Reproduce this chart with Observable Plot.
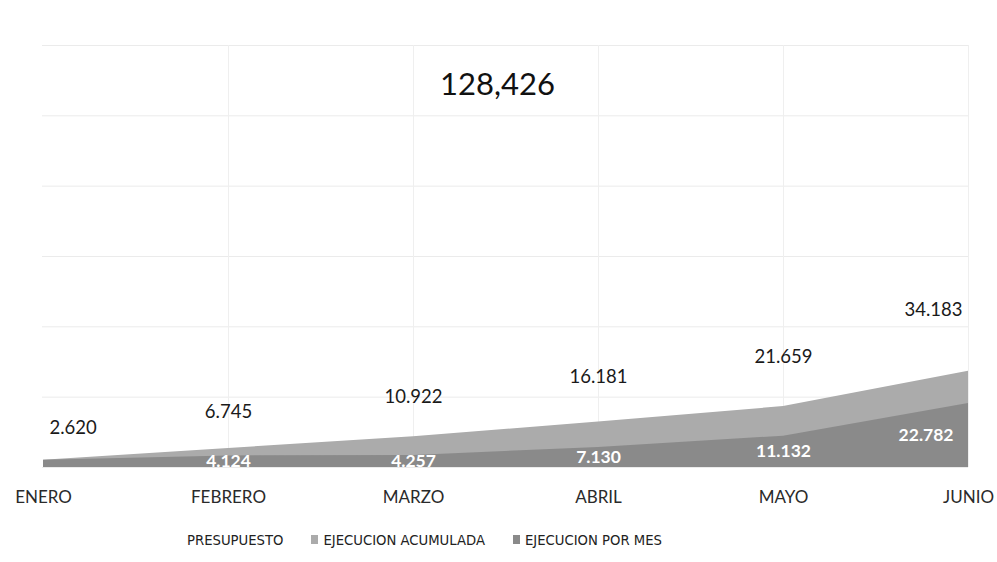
<!DOCTYPE html>
<html>
<head>
<meta charset="utf-8">
<script src="https://cdn.jsdelivr.net/npm/d3@7"></script>
<script src="https://cdn.jsdelivr.net/npm/@observablehq/plot@0.6"></script>
<style>
  html, body { margin: 0; padding: 0; background: #fff; }
  body { width: 997px; height: 562px; overflow: hidden; font-family: Lato, "Open Sans", sans-serif; }
  #legend { position: relative; height: 47px; display: flex; align-items: center; padding-left: 187px; padding-top: 2px; box-sizing: border-box; font-family: "Liberation Sans Narrow", "DejaVu Sans Condensed", Lato, sans-serif; font-size: 14.7px; color: #222; }
  #legend .item { display: flex; align-items: center; margin-right: 28px; }
  #legend .sw { width: 7px; height: 9px; margin-right: 5px; display: inline-block; }
</style>
</head>
<body>
<div id="chart"></div>
<div id="legend"></div>
<script>
const months = ["ENERO", "FEBRERO", "MARZO", "ABRIL", "MAYO", "JUNIO"];
const acumulada = [2620, 6745, 10922, 16181, 21659, 34183];
const porMes = [2620, 4124, 4257, 7130, 11132, 22782];
const porMesLabels = [null, "4.124", "4.257", "7.130", "11.132", "22.782"];
const acumuladaLabels = ["2.620", "6.745", "10.922", "16.181", "21.659", "34.183"];
const presupuesto = 128426;
const presupuestoLabel = "128,426";
const yTicks = [0, 25000, 50000, 75000, 100000, 125000, 150000];
const seriesNames = ["PRESUPUESTO", "EJECUCION ACUMULADA", "EJECUCION POR MES"];
const seriesColors = ["#ffffff", "#ababab", "#8a8a8a"];

const rows = months.map((m, i) => ({
  month: m, cum: acumulada[i], monthly: porMes[i],
  cumLabel: acumuladaLabels[i], monthLabel: porMesLabels[i], i
}));
const last = rows.length - 1;

const chart = Plot.plot({
  width: 997,
  height: 515,
  marginLeft: 42,
  marginRight: 29,
  marginTop: 45,
  marginBottom: 48,
  style: { fontFamily: "Lato, 'Open Sans', sans-serif", background: "#fff" },
  x: { type: "point", domain: months, label: null, padding: 0 },
  y: { domain: [0, 150000], axis: null },
  marks: [
    Plot.gridY(yTicks, { stroke: "#ebebeb", strokeOpacity: 1 }),
    Plot.gridX(months.slice(1), { stroke: "#efefef", strokeOpacity: 1 }),
    Plot.areaY(rows, { x: "month", y: "cum", fill: seriesColors[1] }),
    Plot.areaY(rows, { x: "month", y: "monthly", fill: seriesColors[2] }),
    Plot.axisX({ tickSize: 0, tickPadding: 23, fontSize: 17, fill: "#2a2a2a", label: null }),
    // presupuesto label
    Plot.text([presupuesto], { y: d => d, text: () => presupuestoLabel, dy: -21, dx: -8, fontSize: 31, fill: "#111" }),
    // cumulative labels
    Plot.text(rows.filter(d => d.i === 0), { x: "month", y: d => d.cum * 1.32, text: "cumLabel", textAnchor: "start", dx: 6, dy: -30, fontSize: 18.5, fill: "#1a1a1a" }),
    Plot.text(rows.filter(d => d.i > 0 && d.i < last), { x: "month", y: d => d.cum * 1.32, text: "cumLabel", dy: -30, fontSize: 18.5, fill: "#1a1a1a" }),
    Plot.text(rows.filter(d => d.i === last), { x: "month", y: d => d.cum * 1.32, text: "cumLabel", textAnchor: "end", dx: -6, dy: -30, fontSize: 18.5, fill: "#1a1a1a" }),
    // monthly labels (white)
    Plot.text(rows.filter(d => d.monthLabel && d.i < last), { x: "month", y: d => d.monthly / 2, text: "monthLabel", fontSize: 17.5, fontWeight: "bold", fill: "#fff" }),
    Plot.text(rows.filter(d => d.monthLabel && d.i === last), { x: "month", y: d => d.monthly / 2, text: "monthLabel", textAnchor: "end", dx: -15, fontSize: 17.5, fontWeight: "bold", fill: "#fff" })
  ]
});
document.getElementById("chart").appendChild(chart);

const legend = document.getElementById("legend");
seriesNames.forEach((name, i) => {
  const item = document.createElement("div");
  item.className = "item";
  const sw = document.createElement("span");
  sw.className = "sw";
  sw.style.background = seriesColors[i];
  if (i === 0) sw.style.display = "none";
  const t = document.createElement("span");
  t.textContent = name;
  item.appendChild(sw);
  item.appendChild(t);
  legend.appendChild(item);
});
</script>
</body>
</html>
